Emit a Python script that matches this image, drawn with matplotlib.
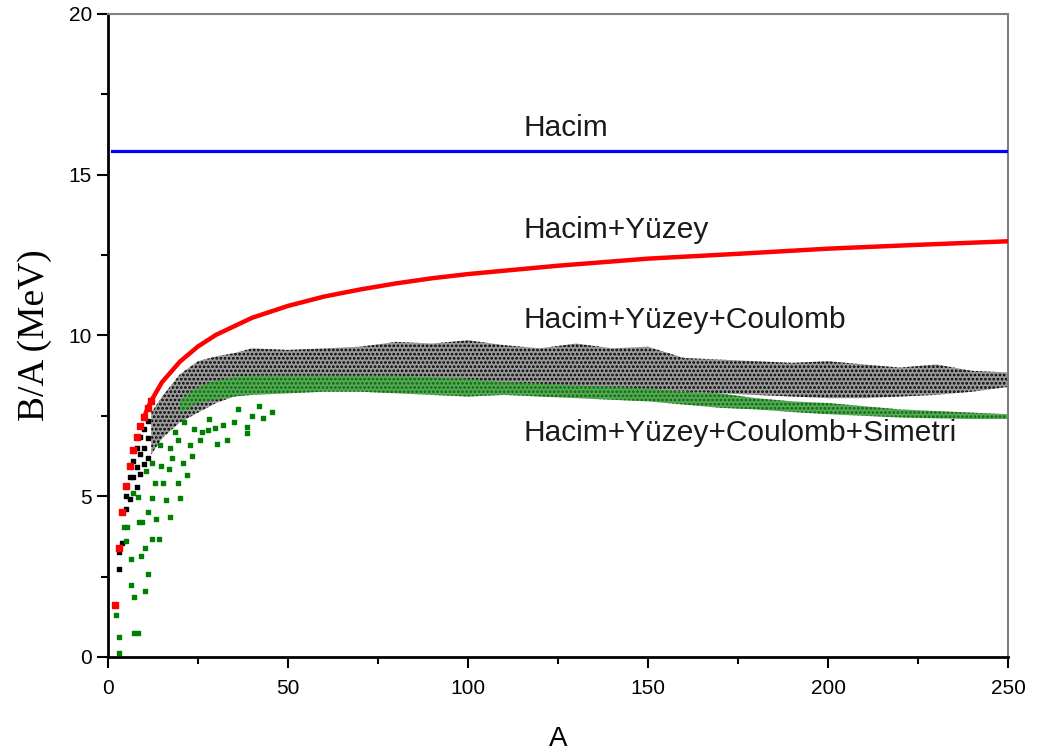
import matplotlib
matplotlib.use("Agg")
from matplotlib import pyplot as plt
from matplotlib.ticker import MultipleLocator
import numpy as np

# Hacim (volume term only)
hacim_A = [1, 250]
hacim = [15.75, 15.75]

# Hacim+Yuzey
red_A = [2, 3, 4, 5, 6, 7, 8, 9, 10, 11, 12, 15, 20, 25, 30, 40, 50, 60, 70,
         80, 90, 100, 125, 150, 175, 200, 225, 250]
red = [1.62, 3.4, 4.5, 5.32, 5.95, 6.44, 6.84, 7.17, 7.46, 7.74, 7.97, 8.55,
       9.19, 9.66, 10.02, 10.55, 10.92, 11.21, 11.43, 11.62, 11.78, 11.91,
       12.17, 12.39, 12.54, 12.7, 12.82, 12.93]

# Hacim+Yuzey+Coulomb band
blk_A = [12, 15, 20, 25, 30, 35, 40, 50, 60, 70, 80, 90, 100, 110, 120, 130,
         140, 150, 160, 170, 180, 190, 200, 210, 220, 230, 240, 250]
blk_top = [7.6, 8.1, 8.8, 9.2, 9.35, 9.45, 9.6, 9.55, 9.6, 9.65, 9.8, 9.75,
           9.85, 9.7, 9.6, 9.75, 9.6, 9.65, 9.3, 9.25, 9.2, 9.15, 9.2, 9.1,
           9.0, 9.1, 8.9, 8.85]
blk_bot = [6.3, 6.8, 7.3, 7.6, 7.9, 8.1, 8.3, 8.5, 8.6, 8.6, 8.6, 8.6, 8.55,
           8.5, 8.45, 8.4, 8.35, 8.3, 8.25, 8.2, 8.15, 8.1, 8.05, 8.05, 8.1,
           8.15, 8.25, 8.4]
blk_dot_A = [3, 3, 4, 5, 5, 6, 6, 7, 7, 8, 8, 8, 9, 9, 9, 10, 10, 10, 11, 11, 11]
blk_dot = [2.74, 3.25, 3.55, 4.6, 5.0, 4.9, 5.6, 5.6, 6.1, 5.3, 5.9, 6.5,
           5.7, 6.3, 6.85, 6.0, 6.5, 7.1, 6.2, 6.8, 7.35]

# Hacim+Yuzey+Coulomb+Simetri band
grn_A = [20, 25, 30, 35, 40, 50, 60, 70, 80, 90, 100, 110, 120, 130, 140, 150,
         160, 170, 180, 190, 200, 210, 220, 230, 240, 250]
grn_top = [8.0, 8.4, 8.6, 8.7, 8.75, 8.75, 8.75, 8.75, 8.75, 8.7, 8.65, 8.55,
           8.5, 8.45, 8.4, 8.35, 8.25, 8.2, 8.05, 7.95, 7.9, 7.8, 7.7, 7.65,
           7.6, 7.55]
grn_bot = [7.6, 7.9, 8.0, 8.1, 8.15, 8.2, 8.25, 8.25, 8.2, 8.15, 8.1, 8.15,
           8.1, 8.05, 8.0, 7.95, 7.85, 7.75, 7.7, 7.62, 7.55, 7.5, 7.45, 7.42,
           7.4, 7.4]
grn_dot_A = [3.1, 3.1, 2.1, 7.3, 8.4, 7.2, 10.3, 6.3, 11.2, 6.3, 9.2, 10.3, 5,
             12.1, 14.2, 4.4, 5.4, 8.7, 9.4, 13.2, 17.2, 11.2, 7, 8.4, 12.1,
             16.1, 20, 13, 15.2, 19.3, 22, 16.8, 14.7, 12.3, 17.7, 20.7, 23.2,
             19.3, 22.8, 17.2, 25.6, 27.9, 29.7, 38.5, 33, 30.2, 43.1, 45.5,
             38.5, 35, 40, 32, 28, 36, 42, 26, 24, 21, 18.5, 14.5, 10.5]
grn_dot = [0.11, 0.61, 1.31, 0.74, 0.74, 1.87, 2.05, 2.24, 2.57, 3.04, 3.14,
           3.38, 3.62, 3.66, 3.66, 4.05, 4.05, 4.21, 4.21, 4.28, 4.36, 4.52,
           5.09, 4.97, 4.94, 4.88, 4.94, 5.4, 5.4, 5.4, 5.66, 5.84, 5.94, 6.02,
           6.2, 6.04, 6.25, 6.75, 6.59, 6.5, 6.75, 7.06, 7.12, 6.96, 6.75,
           6.63, 7.42, 7.63, 7.16, 7.3, 7.5, 7.2, 7.4, 7.7, 7.8, 7.0, 7.1,
           7.3, 7.0, 6.6, 5.8]

labels = ['Hacim', 'Hacim+Yüzey', 'Hacim+Yüzey+Coulomb',
          'Hacim+Yüzey+Coulomb+Simetri']
label_y = [16.45, 13.28, 10.48, 6.97]

plt.rcParams['font.family'] = ['Liberation Sans', 'DejaVu Sans']
plt.rcParams['hatch.linewidth'] = 1.3

fig = plt.figure(figsize=(10.42, 7.56), dpi=100)
ax = fig.add_axes([0.1037, 0.131, 0.8637, 0.8505])

ax.plot(hacim_A, hacim, color='#0000ff', lw=2.3, zorder=3)
ax.plot(red_A[8:], red[8:], color='#ff0000', lw=3.2, zorder=4)
ax.scatter(red_A[:11], red[:11], marker='s', s=22, color='#ff0000', zorder=4)

ax.fill_between(blk_A, blk_bot, blk_top, facecolor='#9a9a9a', edgecolor='black',
                hatch='....', linewidth=0, zorder=2)
ax.scatter(blk_dot_A, blk_dot, marker='s', s=5, color='black', zorder=2)

ax.fill_between(grn_A, grn_bot, grn_top, facecolor='#5aa65a', edgecolor='#006e00',
                hatch='....', linewidth=0, zorder=2.5)
ax.scatter(grn_dot_A, grn_dot, marker='s', s=5, color='#008000', zorder=2.5)

for t, y in zip(labels, label_y):
    ax.text(115.5, y, t, fontsize=21.5, va='center', ha='left', color='#1a1a1a')

ax.set_xlim(0, 250)
ax.set_ylim(0, 20)
ax.xaxis.set_major_locator(MultipleLocator(50))
ax.xaxis.set_minor_locator(MultipleLocator(25))
ax.yaxis.set_major_locator(MultipleLocator(5))
ax.yaxis.set_minor_locator(MultipleLocator(2.5))
ax.tick_params(which='both', direction='out', width=1.5, labelsize=15,
               top=False, right=False)
ax.tick_params(which='major', length=8)
ax.tick_params(which='minor', length=5)
ax.tick_params(axis='x', which='major', pad=8)
for s in ['left', 'bottom']:
    ax.spines[s].set_linewidth(2)
for s in ['top', 'right']:
    ax.spines[s].set_linewidth(1.5)
    ax.spines[s].set_color('#808080')

ax.set_xlabel('A', fontsize=20, labelpad=20)
ax.set_ylabel('B/A (MeV)', fontsize=27, family='Liberation Serif', labelpad=12)

plt.savefig('out.png', dpi=100)
